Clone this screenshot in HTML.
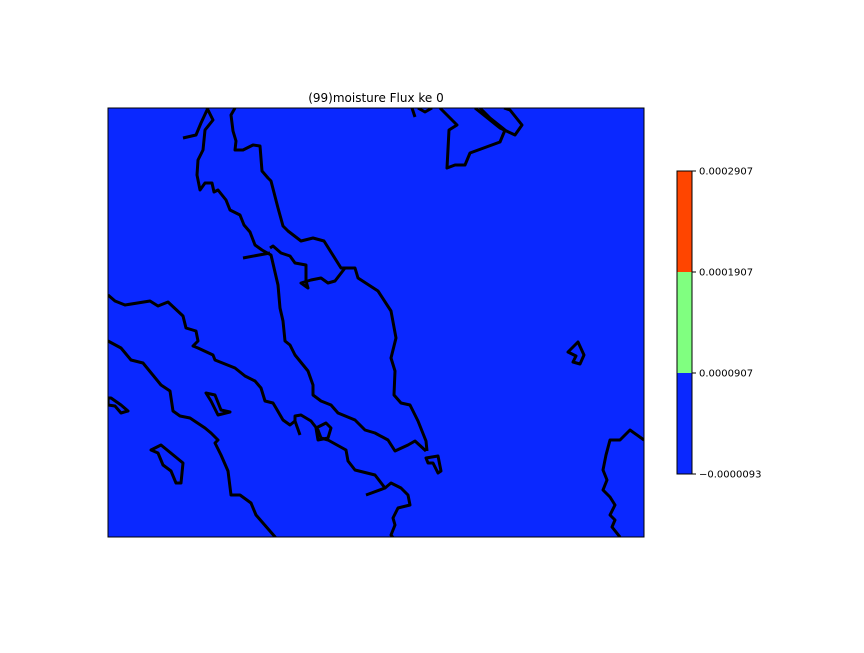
<!DOCTYPE html>
<html><head><meta charset="utf-8"><style>
body{margin:0;background:#fff;}
svg text{font-family:"DejaVu Sans","Liberation Sans",sans-serif;}
</style></head><body>
<svg width="864" height="648" viewBox="0 0 864 648">
<rect x="0" y="0" width="864" height="648" fill="#fff"/>
<text x="376" y="102" font-size="12" text-anchor="middle">(99)moisture Flux ke 0</text>
<g>
<rect x="108" y="108" width="536" height="429" fill="#0a28ff"/>
<clipPath id="c"><rect x="108" y="108" width="536" height="429"/></clipPath>
<g clip-path="url(#c)" fill="none" stroke="#000" stroke-width="3" stroke-linejoin="round">
<polyline points="207,108 213,120 205,130 203,150 198,160 197,175 200,190 205,183 212,183 214,192 218,190 226,200 230,210 240,215 244,225 250,232 255,245 262,250 271,255 278,285 280,308 283,321 285,341 290,345 295,355 308,371 313,385 313,395 321,401 331,405 338,413 355,420 365,430 375,433 388,440 395,451 408,445 415,441 426,451"/>
<polyline points="427,451 426,441 418,421 410,405 401,403 394,395 395,371 391,358 396,338 391,311 378,291 358,278 355,268 341,268 324,241 313,238 301,241 288,231 283,226 278,208 271,181 268,178 262,171 260,146 253,145 243,150 235,150 236,141 233,131 231,115 235,108"/>
<polyline points="270,248 273,246 281,253 290,256 295,263 306,265 306,281 308,288 301,283 311,280 321,278 328,283 335,281 345,268"/>
<polyline points="243,258 270,253"/>
<polyline points="183,138 196,135 201,123 208,108"/>
<polyline points="108,295 115,301 125,305 150,301 158,306 168,302 183,316 186,328 196,331 198,341 193,346 198,348 213,355 215,360 235,368 245,376 255,381 261,388 265,401 273,403 276,408 283,420 290,425 295,421 300,435"/>
<polyline points="295,421 295,416 301,415 311,421 318,430 321,438 328,440 346,450 348,461 355,470 375,475 385,488 366,495"/>
<polyline points="385,488 391,483 401,488 408,495 410,505 398,508 393,518 395,525 391,535 395,540"/>
<polyline points="108,341 121,348 131,360 143,363 161,385 170,391 173,411 180,416 190,418 205,428 211,433 218,440 215,443 221,455 228,471 231,495 240,495 251,503 256,515 276,538"/>
<polygon points="108,398 111,398 121,405 128,411 121,413 115,406 108,405"/>
<polygon points="206,393 215,395 221,410 230,412 218,415 211,401"/>
<polygon points="151,450 161,445 183,463 181,483 176,483 171,471 163,465 158,453"/>
<polygon points="316,428 326,423 331,428 328,438 318,440"/>
<polygon points="426,458 438,456 441,471 438,473 433,463 428,463"/>
<polygon points="568,352 578,342 584,355 580,364 573,362 576,356"/>
<polyline points="412,108 415,117"/>
<polyline points="418,108 425,112 432,108"/>
<polyline points="440,108 457,125 449,130 447,168 455,165 465,165 470,153 500,142 505,130 490,118 480,108"/>
<polyline points="475,108 500,128 515,135 522,125 510,110 504,108"/>
<polyline points="644,440 630,430 620,440 610,440 606,455 603,470 607,480 603,490 610,497 615,505 610,515 615,520 612,527 620,537"/>
</g>
<rect x="108" y="108" width="536" height="429" fill="none" stroke="#000" stroke-width="1"/>
</g>
<g id="cbar"></g>
</svg>
<script>
const levels=[-0.0000093,0.0000907,0.0001907,0.0002907];
const tickLabels=["\u22120.0000093","0.0000907","0.0001907","0.0002907"];
const colors=["#0a28ff","#80ff80","#ff4500"];
const g=document.getElementById('cbar');
const NS='http://www.w3.org/2000/svg';
const x0=677,w=15,yTop=171,yBot=474;
function ys(v){return yBot-(v-levels[0])/(levels[levels.length-1]-levels[0])*(yBot-yTop);}
for(let i=0;i<colors.length;i++){
const r=document.createElementNS(NS,'rect');
r.setAttribute('x',x0);r.setAttribute('y',ys(levels[i+1]));
r.setAttribute('width',w);r.setAttribute('height',ys(levels[i])-ys(levels[i+1]));
r.setAttribute('fill',colors[i]);


g.appendChild(r);}
const fr=document.createElementNS(NS,'rect');
fr.setAttribute('x',x0);fr.setAttribute('y',yTop);fr.setAttribute('width',w);fr.setAttribute('height',yBot-yTop);
fr.setAttribute('fill','none');fr.setAttribute('stroke','#000');fr.setAttribute('stroke-width','1');


g.appendChild(fr);
levels.forEach((v,i)=>{
const y=ys(v);
const l=document.createElementNS(NS,'line');
l.setAttribute('x1',x0+w);l.setAttribute('x2',x0+w+4);l.setAttribute('y1',y);l.setAttribute('y2',y);l.setAttribute('stroke','#000');


g.appendChild(l);
const t=document.createElementNS(NS,'text');
t.setAttribute('x',x0+w+7);t.setAttribute('y',y+3.5);t.setAttribute('font-size','10');
t.textContent=tickLabels[i];


g.appendChild(t);});
</script>
</body></html>
